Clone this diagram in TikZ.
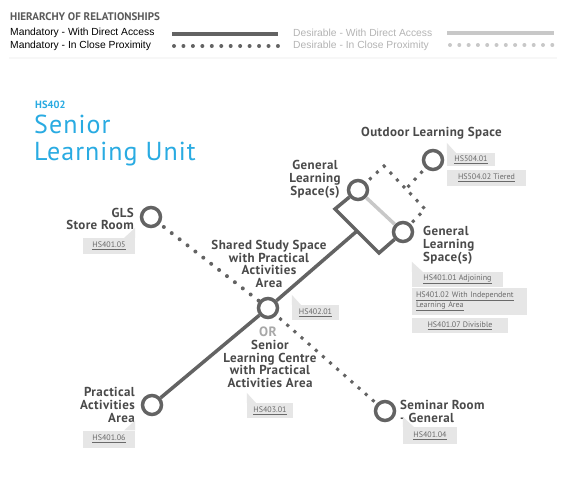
\documentclass[tikz,border=0pt]{standalone}
\usepackage{fontspec}
\setmainfont{PT Sans}
\newfontfamily\legendfont{Liberation Sans}
\newfontfamily\labfont[LetterSpace=3]{PT Sans}
\newfontfamily\titfont[LetterSpace=4]{PT Sans}
\usetikzlibrary{calc}
\definecolor{linec}{HTML}{636363}
\definecolor{lightc}{HTML}{C8C8C8}
\definecolor{labelc}{HTML}{4A4A4A}
\definecolor{tagc}{HTML}{E6E6E6}
\definecolor{tagtext}{HTML}{6A6A6A}
\definecolor{bluec}{HTML}{29ABE2}
\definecolor{legdes}{HTML}{B4B4B4}
\definecolor{headc}{HTML}{5A5A5A}
\definecolor{orc}{HTML}{A8A8A8}
\begin{document}
\begin{tikzpicture}[x=1pt,y=-1pt,
  room/.style={circle,draw=linec,line width=3.5pt,minimum size=19pt,inner sep=0pt,fill=white},
  direct/.style={draw=linec,line width=3.5pt},
  desdirect/.style={draw=lightc,line width=3.5pt},
  rounddots/.style={draw=linec,line width=4pt,line cap=round,dash pattern=on 0pt off 10pt,dash phase=-5pt},
  sqdots/.style={draw=linec,line width=3pt,dash pattern=on 3pt off 6.5pt,dash phase=-4pt},
  lbl/.style={font=\labfont\bfseries\fontsize{13}{12.8}\selectfont,text=labelc,inner sep=0pt},
  tag/.style={fill=tagc,text=tagtext,font=\fontsize{8}{10}\selectfont,inner sep=0pt},
  legtext/.style={font=\legendfont\fontsize{10.3}{11}\selectfont,inner sep=0pt,anchor=west},
]
\useasboundingbox (0,0) rectangle (565,490);
\fill[white] (0,0) rectangle (565,490);

% ---------- legend ----------
\node[anchor=west,inner sep=0pt,text=headc,font=\bfseries\fontsize{11}{11}\selectfont] (head) at (10,17) {HIERARCHY OF RELATIONSHIPS};
\node[legtext,text=black] (m1) at (10,33) {Mandatory - With Direct Access};
\node[legtext,text=black] (m2) at (10,46) {Mandatory - In Close Proximity};
\node[legtext,text=legdes] (d1) at (293,33) {Desirable - With Direct Access};
\node[legtext,text=legdes] (d2) at (293,46) {Desirable - In Close Proximity};
\coordinate (m1a) at (172,34); \coordinate (m1b) at (278,34);
\coordinate (m2a) at (174,46); \coordinate (m2b) at (279,46);
\coordinate (d1a) at (447,33); \coordinate (d1b) at (554,33);
\coordinate (d2a) at (450,45); \coordinate (d2b) at (555,45);
\coordinate (sepa) at (10,58); \coordinate (sepb) at (556,58);
\draw[direct] (m1a) -- (m1b);
\draw[draw=linec,line width=4pt,line cap=round,dash pattern=on 0pt off 9.45pt] (m2a) -- (m2b);
\draw[desdirect] (d1a) -- (d1b);
\draw[draw=lightc,line width=4pt,line cap=round,dash pattern=on 0pt off 9.3pt] (d2a) -- (d2b);
\draw[draw=orc,line width=0.7pt,line cap=round,dash pattern=on 0pt off 2pt] (sepa) -- (sepb);

% ---------- title ----------
\node[anchor=base west,inner sep=0pt,text=bluec,font=\bfseries\fontsize{10.5}{10.5}\selectfont] (code) at (35,108) {HS402};
\node[anchor=base west,inner sep=0pt,text=bluec,font=\titfont\fontsize{26}{26}\selectfont] (t1) at (34,133) {Senior};
\node[anchor=base west,inner sep=0pt,text=bluec,font=\titfont\fontsize{26}{26}\selectfont] (t2) at (34,160) {Learning Unit};

% ---------- rooms ----------
\node[room] (gls) at (151,217) {};
\node[room] (cen) at (268,308) {};
\node[room] (prac) at (152,405) {};
\node[room] (sem) at (385,411) {};
\node[room] (gu) at (358,190) {};
\node[room] (gl) at (403,232) {};
\node[room] (out) at (433,160) {};

% ---------- connectors ----------
\coordinate (bl) at (335,209);
\coordinate (bb) at (379,253);
\coordinate (bm) at ($(bl)!0.5!(bb)$);
\coordinate (pk) at (384,166);
\coordinate (cr) at (425,209);
\coordinate (jn) at (405,190);
\draw[desdirect] (gu) -- (gl);
\draw[direct] (prac) -- (cen);
\draw[direct] (cen) -- (bm);
\draw[direct,line join=miter] (gu) -- (bl) -- (bb) -- (gl);
\draw[rounddots] (gls) -- (cen);
\draw[sqdots] (cen) -- (sem);
\draw[sqdots] (gu) -- (pk) -- (cr) -- (gl);
\draw[sqdots] (out) -- (jn);

% ---------- labels ----------
\node[lbl,anchor=east,align=right] (lgls) at (134,219) {GLS\\Store Room};
\node[lbl,align=center] (lshared) at (269,264) {Shared Study Space\\with Practical\\Activities\\Area};
\node[inner sep=0pt,text=orc,font=\labfont\bfseries\fontsize{13.5}{13}\selectfont] (lor) at (268,332) {OR};
\node[lbl,align=center] (lslc) at (270,364) {Senior\\Learning Centre\\with Practical\\Activities Area};
\node[lbl,anchor=east,align=right] (lprac) at (135,405) {Practical\\Activities\\Area};
\node[lbl,anchor=west,align=left] (lsem) at (400,411.5) {Seminar Room\\- General};
\node[lbl,align=center] (lgu) at (315,179.5) {General\\Learning\\Space(s)};
\node[lbl,anchor=west,align=left] (lgl) at (423,245) {General\\Learning\\Space(s)};
\node[lbl,anchor=west] (lout) at (361,133) {Outdoor Learning Space};

% ---------- tags ----------
\node[tag,minimum width=52pt,minimum height=16pt] (t40105) at (109,246) {\underline{HS401.05}};
\fill[tagc] (t40105.north east) -- ++(0,-10) -- ++(-11,10) -- cycle;
\node[tag,minimum width=52pt,minimum height=17pt] (t40106) at (109,439) {\underline{HS401.06}};
\fill[tagc] (t40106.north east) -- ++(0,-10) -- ++(-11,10) -- cycle;
\node[tag,minimum width=48pt,minimum height=13pt] (t50401) at (471,159.5) {\underline{HS504.01}};
\fill[tagc] (t50401.north west) -- ++(0,-10) -- ++(9,10) -- cycle;
\node[tag,minimum width=79pt,minimum height=16pt] (t50402) at (486.5,178) {\underline{HS504.02 Tiered}};
\node[tag,minimum width=91pt,minimum height=15pt] (t40101) at (457.5,279.5) {\underline{HS401.01 Adjoining}};
\fill[tagc] (t40101.north west) -- ++(0,-10) -- ++(11,10) -- cycle;
\node[tag,minimum width=115pt,minimum height=27pt,align=left,text width=107pt] (t40102) at (469.5,301.5) {\underline{HS401.02 With Independent}\\\underline{Learning Area}};
\node[tag,minimum width=96pt,minimum height=15pt] (t40107) at (460,325.5) {\underline{HS401.07 Divisible}};
\node[tag,minimum width=47pt,minimum height=15pt] (t40201) at (315.5,312.5) {\underline{HS402.01}};
\fill[tagc] (t40201.north west) -- ++(0,-10) -- ++(9,10) -- cycle;
\node[tag,minimum width=46pt,minimum height=15pt] (t40301) at (270,410.5) {\underline{HS403.01}};
\fill[tagc] (t40301.north west) -- ++(0,-10) -- ++(9,10) -- cycle;
\node[tag,minimum width=54pt,minimum height=17pt] (t40104) at (430,435.5) {\underline{HS401.04}};
\fill[tagc] (t40104.north west) -- ++(0,-10) -- ++(11,10) -- cycle;
\end{tikzpicture}
\end{document}
